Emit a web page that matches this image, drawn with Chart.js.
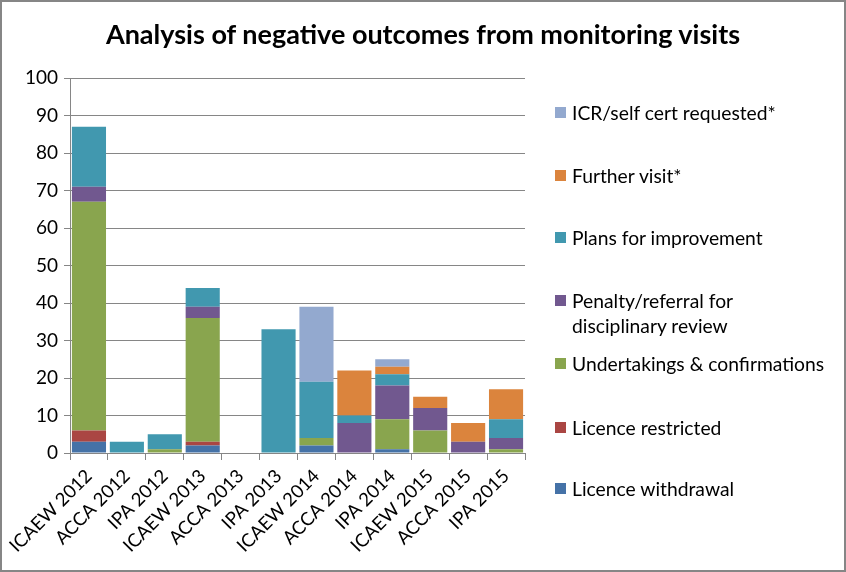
<!DOCTYPE html>
<html>
<head>
<meta charset="utf-8">
<script src="https://cdn.jsdelivr.net/npm/chart.js@4.4.0/dist/chart.umd.min.js"></script>
<style>
    html, body { margin: 0; padding: 0; background: #fff; }
    #frame {
        position: relative;
        width: 842px;
        height: 568px;
        border: 2px solid #868686;
        background: #fff;
    }
    #title {
        position: absolute;
        left: 0;
        top: 16px;
        width: 842px;
        text-align: center;
        font-family: Lato, 'Noto Sans', sans-serif;
        font-weight: bold;
        font-size: 27px;
        line-height: 1.2;
        color: #000;
        white-space: nowrap;
    }
    #legend {
        position: absolute;
        left: 553px;
        top: 0;
        font-family: Lato, 'Noto Sans', sans-serif;
        font-size: 19.3px;
        color: #000;
    }
    .item {
        position: absolute;
        left: 0;
        white-space: nowrap;
        line-height: 25px;
    }
    .swatch {
        position: absolute;
        left: 0;
        top: 7px;
        width: 11px;
        height: 11px;
    }
    .label { position: absolute; left: 17px; top: 0; }
</style>
</head>
<body>
<div id="frame">
    <canvas id="outcomesChart"></canvas>
    <div id="title">Analysis of negative outcomes from monitoring visits</div>
    <div id="legend"></div>
</div>
<script>
// Categories and series (bottom of the stack first)
const categories = ['ICAEW 2012', 'ACCA 2012', 'IPA 2012', 'ICAEW 2013', 'ACCA 2013', 'IPA 2013',
                    'ICAEW 2014', 'ACCA 2014', 'IPA 2014', 'ICAEW 2015', 'ACCA 2015', 'IPA 2015'];

const licenceWithdrawal = [3, 0, 0, 2, 0, 0, 2, 0, 1, 0, 0, 0];
const licenceRestricted = [3, 0, 0, 1, 0, 0, 0, 0, 0, 0, 0, 0];
const undertakings      = [61, 0, 1, 33, 0, 0, 2, 0, 8, 6, 0, 1];
const penaltyReferral   = [4, 0, 0, 3, 0, 0, 0, 8, 9, 6, 3, 3];
const plansImprovement  = [16, 3, 4, 5, 0, 33, 15, 2, 3, 0, 0, 5];
const furtherVisit      = [0, 0, 0, 0, 0, 0, 0, 12, 2, 3, 5, 8];
const icrRequested      = [0, 0, 0, 0, 0, 0, 20, 0, 2, 0, 0, 0];

const yTicks = [0, 10, 20, 30, 40, 50, 60, 70, 80, 90, 100];

const seriesNames = ['Licence withdrawal', 'Licence restricted', 'Undertakings & confirmations',
                     'Penalty/referral for disciplinary review', 'Plans for improvement',
                     'Further visit*', 'ICR/self cert requested*'];
const seriesData = [licenceWithdrawal, licenceRestricted, undertakings, penaltyReferral,
                    plansImprovement, furtherVisit, icrRequested];
const seriesColors = ['#4572A7', '#AA4643', '#89A54E', '#71588F', '#4198AF', '#DB843D', '#93A9CF'];

const FONT = 'Lato, "Noto Sans", sans-serif';
const GRID = '#868686';

document.addEventListener('DOMContentLoaded', function() {
    createOutcomesChart();
    buildLegend();
});

function createOutcomesChart() {
    const ctx = document.getElementById('outcomesChart').getContext('2d');

    new Chart(ctx, {
        type: 'bar',
        data: {
            labels: categories,
            datasets: seriesData.map((values, i) => ({
                label: seriesNames[i],
                data: values,
                backgroundColor: seriesColors[i],
                borderWidth: 0,
                barPercentage: 0.9,
                categoryPercentage: 1.0
            }))
        },
        options: {
            responsive: true,
            maintainAspectRatio: false,
            animation: false,
            layout: {
                padding: { left: 0, right: 319, top: 76, bottom: 0 }
            },
            plugins: {
                legend: { display: false },
                tooltip: { enabled: false },
                title: { display: false }
            },
            scales: {
                x: {
                    stacked: true,
                    afterFit: function(scale) { scale.height = 117; },
                    border: { display: true, color: GRID, width: 1 },
                    grid: {
                        offset: true,
                        drawOnChartArea: false,
                        drawTicks: true,
                        tickLength: 7,
                        color: GRID
                    },
                    ticks: {
                        color: '#000',
                        minRotation: 45,
                        maxRotation: 45,
                        padding: 5,
                        font: { family: FONT, size: 18.5 }
                    }
                },
                y: {
                    stacked: true,
                    min: 0,
                    max: 100,
                    afterFit: function(scale) { scale.width = 68; },
                    afterBuildTicks: function(scale) {
                        scale.ticks = yTicks.map(v => ({ value: v }));
                    },
                    border: { display: true, color: GRID, width: 1 },
                    grid: {
                        color: GRID,
                        lineWidth: 1,
                        drawTicks: true,
                        tickLength: 6
                    },
                    ticks: {
                        color: '#000',
                        padding: 6,
                        font: { family: FONT, size: 19 }
                    }
                }
            }
        }
    });
}

// Legend on the right, top entry is the top of the stack
function buildLegend() {
    const legend = document.getElementById('legend');
    const rows = [
        { idx: 6, top: 98 },
        { idx: 5, top: 161 },
        { idx: 4, top: 223 },
        { idx: 3, top: 286, lines: ['Penalty/referral for', 'disciplinary review'] },
        { idx: 2, top: 349 },
        { idx: 1, top: 413 },
        { idx: 0, top: 474 }
    ];
    rows.forEach(row => {
        const item = document.createElement('div');
        item.className = 'item';
        item.style.top = row.top + 'px';
        const sw = document.createElement('div');
        sw.className = 'swatch';
        sw.style.background = seriesColors[row.idx];
        const label = document.createElement('div');
        label.className = 'label';
        label.innerHTML = (row.lines || [seriesNames[row.idx]]).join('<br>');
        item.appendChild(sw);
        item.appendChild(label);
        legend.appendChild(item);
    });
}
</script>
</body>
</html>
